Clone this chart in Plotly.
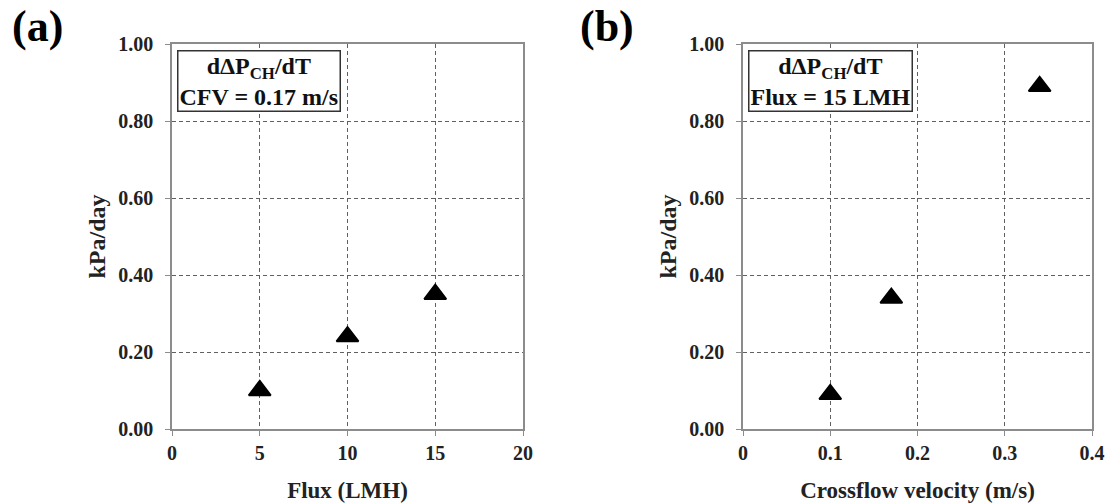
import plotly.graph_objects as go

# Data
flux_lmh = [5, 10, 15]
rate_a = [0.10, 0.24, 0.35]
cfv_ms = [0.10, 0.17, 0.34]
rate_b = [0.09, 0.34, 0.89]

x_title_a = "Flux (LMH)"
x_title_b = "Crossflow velocity (m/s)"
y_title = "kPa/day"
box_a = "dΔP<sub>CH</sub>/dT<br>CFV = 0.17 m/s"
box_b = "dΔP<sub>CH</sub>/dT<br>Flux = 15 LMH"

FONT = "Liberation Serif"
W, H = 1110, 503

fig = go.Figure()
mk = dict(symbol="triangle-up", size=19, color="black", line=dict(color="black", width=2))
fig.add_trace(go.Scatter(x=flux_lmh, y=rate_a, mode="markers", marker=mk, xaxis="x", yaxis="y", showlegend=False))
fig.add_trace(go.Scatter(x=cfv_ms, y=rate_b, mode="markers", marker=mk, xaxis="x2", yaxis="y2", showlegend=False))

ydom = [1 - 429 / H, 1 - 44 / H]
axis_common = dict(
    showline=True, linecolor="#8c8c8c", linewidth=1.5, mirror=True,
    showgrid=True, gridcolor="#606060", gridwidth=1, griddash="4px,3px",
    zeroline=False, ticks="outside", ticklen=5, tickcolor="#8c8c8c",
    tickfont=dict(family=FONT, size=20, color="#222", weight="bold"),
    automargin=False,
)
xtf = dict(family=FONT, size=23, color="#222", weight="bold")
ytf = dict(family=FONT, size=24, color="#222", weight="bold")

fig.update_layout(
    width=W, height=H, margin=dict(l=0, r=0, t=0, b=0),
    paper_bgcolor="white", plot_bgcolor="white",
    font=dict(family=FONT),
    xaxis=dict(domain=[172 / W, 523 / W], range=[0, 20], dtick=5, tick0=0, ticklabelstandoff=0,
               title=dict(text=x_title_a, font=xtf, standoff=20), anchor="y", **axis_common),
    yaxis=dict(domain=ydom, range=[0, 1], dtick=0.2, tickformat=".2f", ticklabelstandoff=8,
               title=dict(text=y_title, font=ytf, standoff=6), anchor="x", **axis_common),
    xaxis2=dict(domain=[743 / W, 1092 / W], range=[0, 0.4], dtick=0.1, tick0=0, ticklabelstandoff=0,
                title=dict(text=x_title_b, font=xtf, standoff=20), anchor="y2", **axis_common),
    yaxis2=dict(domain=ydom, range=[0, 1], dtick=0.2, tickformat=".2f", ticklabelstandoff=8,
                title=dict(text=y_title, font=ytf, standoff=6), anchor="x2", **axis_common),
)

ann_font = dict(family=FONT, size=24, color="#111", weight="bold")
fig.add_annotation(text=box_a, xref="x domain", yref="y domain", x=0.013, y=0.985,
                   xanchor="left", yanchor="top", showarrow=False, align="center",
                   font=ann_font, bgcolor="white", bordercolor="#333", borderwidth=1.5, borderpad=1)
fig.add_annotation(text=box_b, xref="x2 domain", yref="y2 domain", x=0.013, y=0.985,
                   xanchor="left", yanchor="top", showarrow=False, align="center",
                   font=ann_font, bgcolor="white", bordercolor="#333", borderwidth=1.5, borderpad=1)

panel_font = dict(family=FONT, size=44, color="black", weight="bold")
fig.add_annotation(text="(a)", xref="paper", yref="paper", x=10 / W, y=1.0,
                   xanchor="left", yanchor="top", showarrow=False, font=panel_font)
fig.add_annotation(text="(b)", xref="paper", yref="paper", x=578 / W, y=1.0,
                   xanchor="left", yanchor="top", showarrow=False, font=panel_font)

fig.write_html("out.html")
